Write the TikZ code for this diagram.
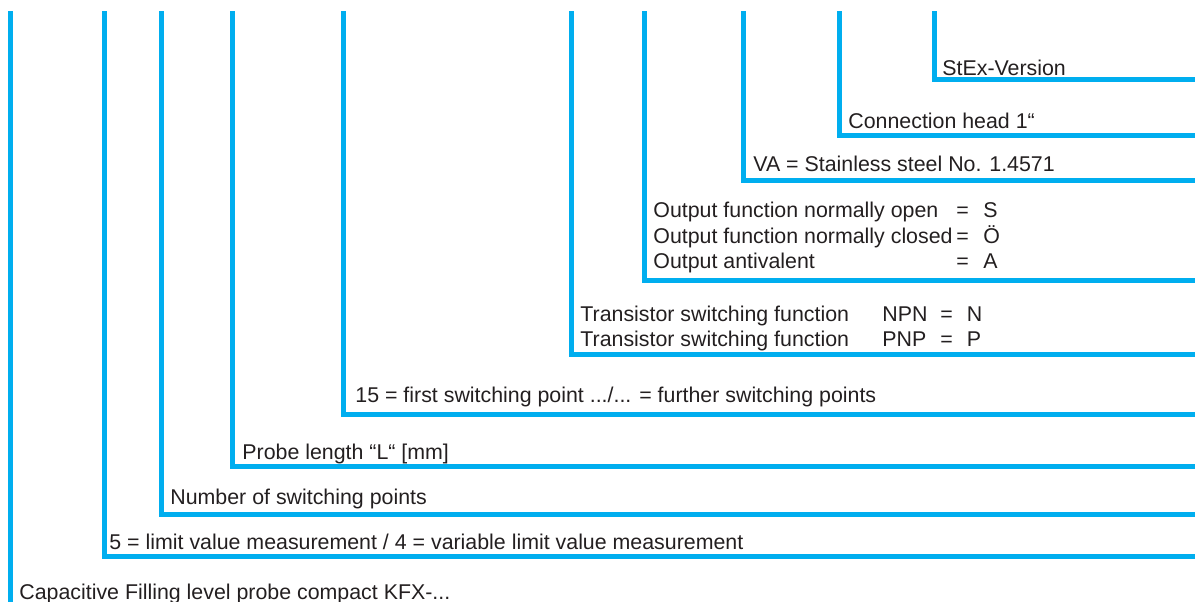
\documentclass[tikz,border=0pt]{standalone}
\usepackage{fontspec}
\setmainfont{Liberation Sans}
\definecolor{leadcyan}{RGB}{0, 174, 239}
\definecolor{labelgray}{RGB}{35, 31, 32}
\usetikzlibrary{positioning}

\begin{document}
\begin{tikzpicture}[x=0.5pt, y=-0.5pt,
    lead/.style={line width=2.5pt, leadcyan, line join=miter},
    lbl/.style={anchor=base west, inner sep=0pt, text=labelgray, font=\fontsize{10.68}{12.8}\selectfont}
  ]
  \useasboundingbox (0,0) rectangle (1195,601);

  \coordinate (top1) at (10.5,11);
  \coordinate (top2) at (104,11);
  \coordinate (top3) at (161.5,11);
  \coordinate (top4) at (232.5,11);
  \coordinate (top5) at (343,11);
  \coordinate (top6) at (571,11);
  \coordinate (top7) at (644.5,11);
  \coordinate (top8) at (743.5,11);
  \coordinate (top9) at (839.5,11);
  \coordinate (top10) at (934.5,11);

  \coordinate (end1) at (10.5,610);
  \coordinate (end2) at (1200,556.5);
  \coordinate (end3) at (1200,514.5);
  \coordinate (end4) at (1200,466);
  \coordinate (end5) at (1200,414);
  \coordinate (end6) at (1200,354.5);
  \coordinate (end7) at (1200,280);
  \coordinate (end8) at (1200,180.5);
  \coordinate (end9) at (1200,135.5);
  \coordinate (end10) at (1200,79.5);

  \draw[lead] (top1) -- (end1);
  \draw[lead] (top2) |- (end2);
  \draw[lead] (top3) |- (end3);
  \draw[lead] (top4) |- (end4);
  \draw[lead] (top5) |- (end5);
  \draw[lead] (top6) |- (end6);
  \draw[lead] (top7) |- (end7);
  \draw[lead] (top8) |- (end8);
  \draw[lead] (top9) |- (end9);
  \draw[lead] (top10) |- (end10);

  \node[lbl] (stex) at (942,75) {StEx-Version};
  \node[lbl] (head) at (848,128.3) {Connection head 1“};
  \node[lbl] (steel) at (753,171.7) {VA = Stainless steel No. 1.4571};

  \node[lbl] (open) at (653,217.7) {Output function normally open};
  \node[lbl] (closed) at (653,243.3) {Output function normally closed};
  \node[lbl] (antiv) at (653,268.3) {Output antivalent};
  \node[lbl] (openeq) at (956,217.7) {=};
  \node[lbl] (closedeq) at (956,243.3) {=};
  \node[lbl] (antiveq) at (956,268.3) {=};
  \node[lbl] (opencode) at (983,217.7) {S};
  \node[lbl] (closedcode) at (983,243.3) {Ö};
  \node[lbl] (antivcode) at (983,268.3) {A};

  \node[lbl] (npn) at (580,321.7) {Transistor switching function};
  \node[lbl] (pnp) at (580,346.7) {Transistor switching function};
  \node[lbl] (npntype) at (882,321.7) {NPN};
  \node[lbl] (pnptype) at (882,346.7) {PNP};
  \node[lbl] (npneq) at (940,321.7) {=};
  \node[lbl] (pnpeq) at (940,346.7) {=};
  \node[lbl] (npncode) at (966.5,321.7) {N};
  \node[lbl] (pnpcode) at (966.5,346.7) {P};

  \node[lbl] (points) at (355,402) {15 = first switching point .../... = further switching points};
  \node[lbl] (length) at (242,459.5) {Probe length “L“ [mm]};
  \node[lbl] (number) at (170,504.5) {Number of switching points};
  \node[lbl] (limit) at (109,549.5) {5 = limit value measurement / 4 = variable limit value measurement};
  \node[lbl] (probe) at (19,599) {Capacitive Filling level probe compact KFX-...};
\end{tikzpicture}
\end{document}
